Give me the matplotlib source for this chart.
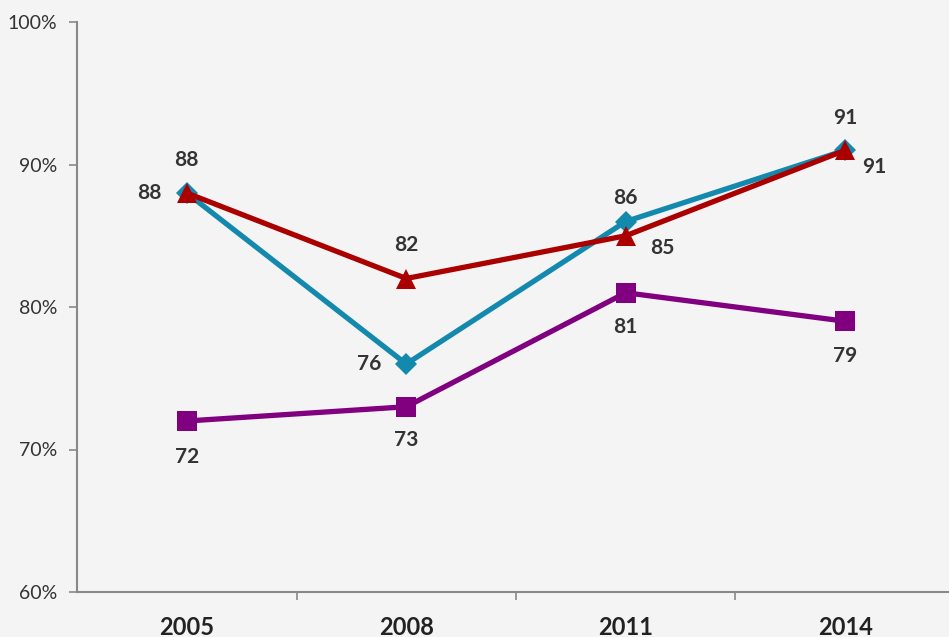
import matplotlib.pyplot as plt
from matplotlib.ticker import PercentFormatter

years = ["2005", "2008", "2011", "2014"]
blue_vals = [88, 76, 86, 91]
red_vals = [88, 82, 85, 91]
purple_vals = [72, 73, 81, 79]

# label offsets in points (dx, dy) for each point
blue_offsets = [(0, 24), (-27, 0), (0, 17), (0, 23)]
red_offsets = [(-27, 0), (0, 24), (26, -9), (21, -12)]
purple_offsets = [(0, -26), (0, -24), (0, -25), (0, -25)]

plt.rcParams['font.family'] = ['Lato', 'DejaVu Sans']

fig = plt.figure(figsize=(9.49, 6.37), dpi=100)
fig.patch.set_facecolor('#f4f4f4')
ax = fig.add_axes([77/949, 45/637, 878/949, 570/637])
ax.set_facecolor('#f4f4f4')

x = list(range(len(years)))

series = [
    (purple_vals, '#800080', 's', 14, purple_offsets),
    (blue_vals, '#1489ae', 'D', 11, blue_offsets),
    (red_vals, '#aa0000', '^', 14, red_offsets),
]
for vals, col, mk, ms, offs in series:
    ax.plot(x, vals, color=col, lw=3.8, marker=mk, markersize=ms,
            markeredgewidth=0, zorder=3)
    for xi, v, (dx, dy) in zip(x, vals, offs):
        ax.annotate(str(v), (xi, v), xytext=(dx, dy), textcoords='offset points',
                    ha='center', va='center', fontsize=15, fontweight='bold',
                    color='#333333', zorder=4)

ax.set_xlim(-0.5, 3.5)
ax.set_ylim(60, 100)
ax.set_yticks([60, 70, 80, 90, 100])
ax.yaxis.set_major_formatter(PercentFormatter(decimals=0))
ax.set_xticks([0.5, 1.5, 2.5], minor=False)
ax.set_xticklabels([])
ax.set_xticks(x, minor=True)
ax.set_xticklabels(years, minor=True)
ax.tick_params(axis='x', which='minor', length=0, labelsize=17, pad=17,
               labelcolor='#222222')
for lab in ax.get_xticklabels(minor=True):
    lab.set_fontweight('bold')
ax.tick_params(axis='x', which='major', length=6, color='#888888', width=1.2)
ax.tick_params(axis='y', length=6, color='#888888', width=1.2, labelsize=14,
               labelcolor='#333333', pad=8)

for s in ['top', 'right']:
    ax.spines[s].set_visible(False)
for s in ['left', 'bottom']:
    ax.spines[s].set_color('#888888')
    ax.spines[s].set_linewidth(1.5)

fig.savefig('out.png', dpi=100, facecolor=fig.get_facecolor())
